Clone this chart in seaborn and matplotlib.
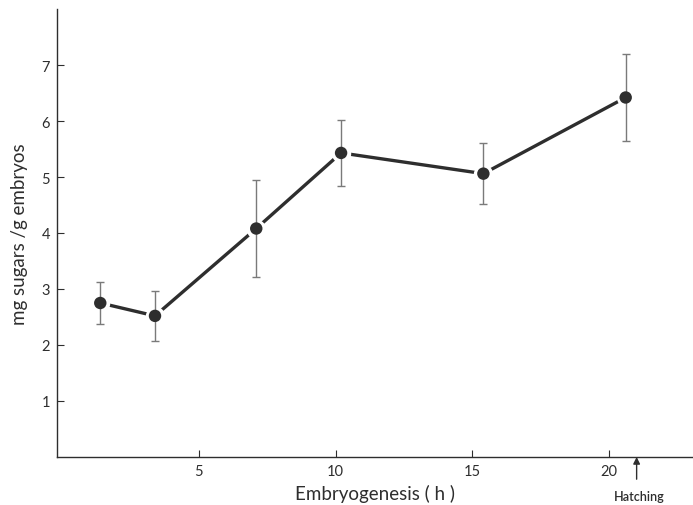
import numpy as np
import pandas as pd
import matplotlib
matplotlib.use("Agg")
import matplotlib.pyplot as plt
import seaborn as sns

hours = [1.4, 3.4, 7.1, 10.2, 15.4, 20.6]
sugars = [2.75, 2.52, 4.08, 5.43, 5.06, 6.42]
err = [0.38, 0.44, 0.87, 0.59, 0.54, 0.77]
x_ticks = [5, 10, 15, 20]
y_ticks = [1, 2, 3, 4, 5, 6, 7]
hatching_h = 21

df = pd.DataFrame({"hours": hours, "sugars": sugars, "err": err})

sns.set_theme(style="ticks")
plt.rcParams['font.family'] = ['Lato', 'DejaVu Sans']

ink = "#2e2e2e"
fig = plt.figure(figsize=(6.93, 5.06), dpi=100)
ax = fig.add_axes([0.0823, 0.0949, 0.9177, 0.8853])

# connecting line, white marker edges leave small gaps at each point
sns.lineplot(data=df, x="hours", y="sugars", ax=ax, color=ink, lw=2.4,
             marker="o", markersize=9, markerfacecolor="white",
             markeredgecolor="white", markeredgewidth=5, zorder=2)
ax.errorbar(df["hours"], df["sugars"], yerr=df["err"], fmt="none",
            ecolor="#7a7a7a", elinewidth=1.0, capsize=3.2, capthick=1.0, zorder=3)
sns.scatterplot(data=df, x="hours", y="sugars", ax=ax, color=ink, s=80,
                edgecolor="none", zorder=4)

ax.set_xlim(-0.18, 23.06)
ax.set_ylim(0, 8.0)
ax.set_xticks(x_ticks)
ax.set_yticks(y_ticks)
ax.tick_params(direction="in", length=5, width=0.8, colors=ink, labelsize=10.5, pad=5)
for s in ["top", "right"]:
    ax.spines[s].set_visible(False)
for s in ["left", "bottom"]:
    ax.spines[s].set_color(ink)
    ax.spines[s].set_linewidth(1.0)

ax.set_xlabel("Embryogenesis ( h )", fontsize=13.5, color=ink, labelpad=4)
ax.set_ylabel("mg sugars /g embryos", fontsize=13.5, color=ink, labelpad=10)

ax.annotate("", xy=(hatching_h, 0), xycoords="data",
            xytext=(0, -16), textcoords="offset points", annotation_clip=False,
            arrowprops=dict(arrowstyle="-|>", color=ink, lw=1.0, shrinkA=0, shrinkB=0,
                            mutation_scale=10))
ax.annotate("Hatching", xy=(hatching_h, 0), xycoords="data",
            xytext=(2, -24), textcoords="offset points", ha="center", va="top",
            fontsize=9, fontweight="semibold", color=ink, annotation_clip=False)

fig.savefig("out.png", dpi=100)
